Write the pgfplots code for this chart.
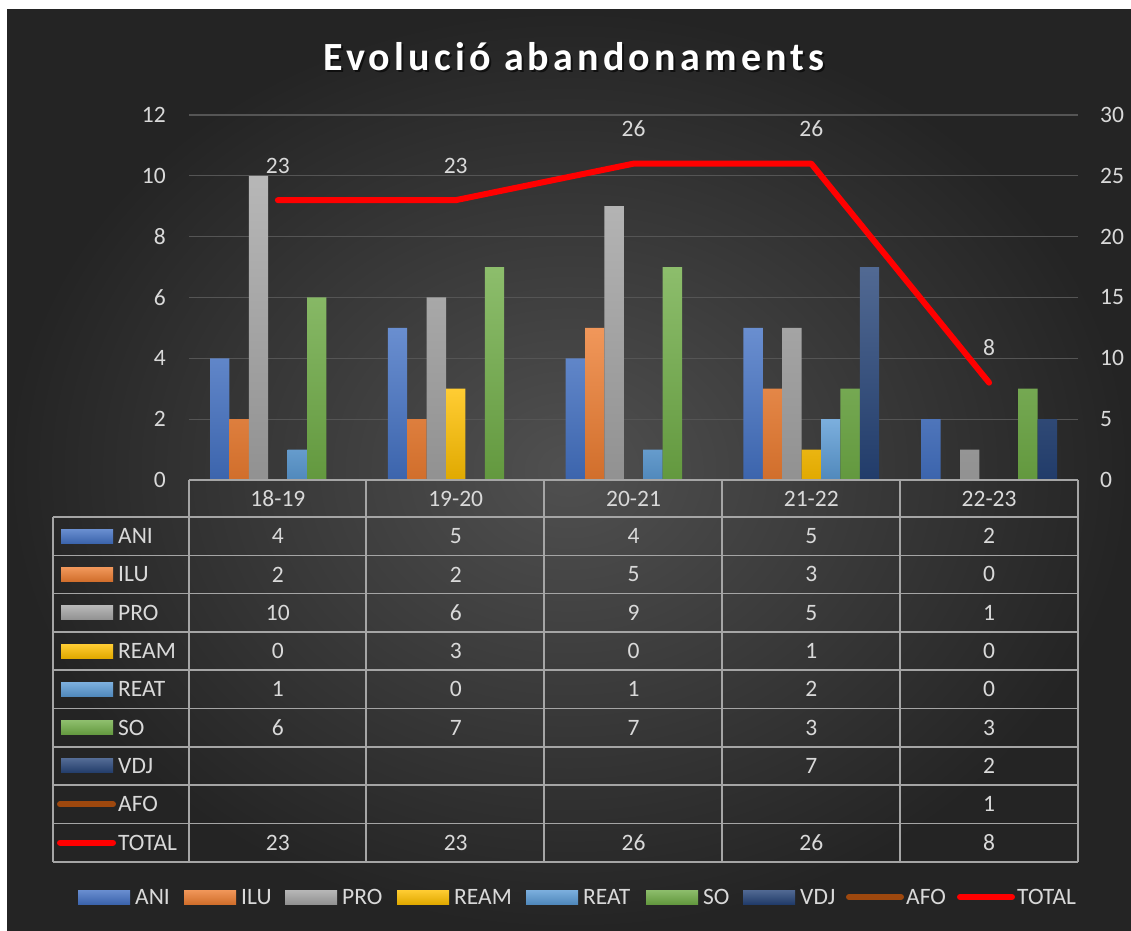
\documentclass[border=0pt]{standalone}
\usepackage{pgfplots}
\pgfplotsset{compat=1.18}
\usepackage{fontspec}
\setmainfont{Carlito}

\definecolor{bgin}{RGB}{80,80,80}
\definecolor{bgout}{RGB}{36,36,36}
\definecolor{txt}{RGB}{217,217,217}
\definecolor{gridc}{RGB}{85,85,85}
\definecolor{tabc}{RGB}{165,165,165}
\definecolor{cANI}{RGB}{68,114,196}
\definecolor{cILU}{RGB}{237,125,49}
\definecolor{cPRO}{RGB}{165,165,165}
\definecolor{cREAM}{RGB}{255,192,0}
\definecolor{cREAT}{RGB}{91,155,213}
\definecolor{cSO}{RGB}{112,173,71}
\definecolor{cVDJ}{RGB}{38,68,120}
\definecolor{cAFO}{RGB}{158,72,14}
\definecolor{cTOT}{RGB}{255,0,0}

\tikzset{
  barc/.style={draw=none, top color=#1!80!white, bottom color=#1!88!black},
}
\newcommand{\lbl}{\fontsize{23.5}{27}\selectfont}
\newcommand{\ttl}{\fontsize{40}{44}\selectfont\bfseries\addfontfeature{LetterSpace=10.5}}

\begin{document}
\begin{tikzpicture}[x=1pt,y=1pt]
\fill[white] (0,0) rectangle (1131,930);
\shade[inner color=bgin, outer color=bgout] (7,0) rectangle (1131,920);

% title
\node[text=black, opacity=0.6] at (576,871) {\ttl Evolució abandonaments};
\node[text=white] at (574,873) {\ttl Evolució abandonaments};

% bars, left axis
\begin{axis}[
  at={(189pt,450pt)}, anchor=south west,
  scale only axis, width=889pt, height=365pt,
  xmin=-0.5, xmax=4.5, ymin=0, ymax=12,
  xtick=\empty, ytick={0,2,...,12},
  ymajorgrids, grid style={gridc, line width=1.3pt},
  axis line style={draw=none}, tick style={draw=none},
  /pgf/number format/assume math mode=true,
  yticklabel style={font=\lbl, text=txt, inner sep=0pt, xshift=-23pt},
  ybar=0pt, bar width=19.4pt,
  clip=false,
]
\addplot[barc=cANI] coordinates {(0,4) (1,5) (2,4) (3,5) (4,2)};
\addplot[barc=cILU] coordinates {(0,2) (1,2) (2,5) (3,3) (4,0)};
\addplot[barc=cPRO] coordinates {(0,10) (1,6) (2,9) (3,5) (4,1)};
\addplot[barc=cREAM] coordinates {(0,0) (1,3) (2,0) (3,1) (4,0)};
\addplot[barc=cREAT] coordinates {(0,1) (1,0) (2,1) (3,2) (4,0)};
\addplot[barc=cSO] coordinates {(0,6) (1,7) (2,7) (3,3) (4,3)};
\addplot[barc=cVDJ] coordinates {(3,7) (4,2)};
\end{axis}

% total line, right axis
\begin{axis}[
  at={(189pt,450pt)}, anchor=south west,
  scale only axis, width=889pt, height=365pt,
  xmin=-0.5, xmax=4.5, ymin=0, ymax=30,
  axis y line*=right, hide x axis,
  ytick={0,5,...,30},
  axis line style={draw=none}, tick style={draw=none},
  /pgf/number format/assume math mode=true,
  yticklabel style={font=\lbl, text=txt, inner sep=0pt, xshift=22pt},
  clip=false,
]
\addplot[cAFO, line width=6pt, line cap=butt] coordinates {(4,1)};
\addplot[cTOT, line width=6pt, line cap=round, line join=round,
  nodes near coords,
  nodes near coords style={font=\lbl, text=txt, anchor=south, inner sep=0pt, yshift=24pt}]
  coordinates {(0,23) (1,23) (2,26) (3,26) (4,8)};
\end{axis}

% data table
\begin{scope}[tabc, line width=1.6pt]
\draw (189,450) -- (1078,450);
\foreach \k in {0,...,9} \draw (53,{413-\k*38.3}) -- (1078,{413-\k*38.3});
\foreach \xx in {189,366,544,722,900,1078} \draw (\xx,450) -- (\xx,68.3);
\draw (53,413) -- (53,68.3);
\end{scope}

\foreach \c [count=\i from 0] in {18-19,19-20,20-21,21-22,22-23}
  \node[text=txt, font=\lbl] at ({277.9+177.8*\i},431.5) {\c};

\newcommand{\rowvals}[2]{%
  \foreach \v [count=\i from 0] in {#2}
    \node[text=txt, font=\lbl] at ({277.9+177.8*\i},{393.85-38.3*#1}) {\v};}
\rowvals{0}{4,5,4,5,2}
\rowvals{1}{2,2,5,3,0}
\rowvals{2}{10,6,9,5,1}
\rowvals{3}{0,3,0,1,0}
\rowvals{4}{1,0,1,2,0}
\rowvals{5}{6,7,7,3,3}
\node[text=txt, font=\lbl] at ({277.9+177.8*3},{393.85-38.3*6}) {7};
\node[text=txt, font=\lbl] at ({277.9+177.8*4},{393.85-38.3*6}) {2};
\node[text=txt, font=\lbl] at ({277.9+177.8*4},{393.85-38.3*7}) {1};
\rowvals{8}{23,23,26,26,8}

% row headers
\foreach \n/\c [count=\r from 0] in {ANI/cANI,ILU/cILU,PRO/cPRO,REAM/cREAM,REAT/cREAT,SO/cSO,VDJ/cVDJ} {
  \shade[barc=\c] (61,{393.85-38.3*\r-7}) rectangle (113,{393.85-38.3*\r+7});
  \node[text=txt, font=\lbl, anchor=west, inner sep=0pt] at (118,{393.85-38.3*\r}) {\n};
}
\foreach \n/\c [count=\r from 7] in {AFO/cAFO,TOTAL/cTOT} {
  \draw[\c, line width=6pt, line cap=round] (60,{393.85-38.3*\r}) -- (113,{393.85-38.3*\r});
  \node[text=txt, font=\lbl, anchor=west, inner sep=0pt] at (118,{393.85-38.3*\r}) {\n};
}

% bottom legend
\foreach \n/\c/\xx in {ANI/cANI/78,ILU/cILU/184,PRO/cPRO/285,REAM/cREAM/397,REAT/cREAT/526,SO/cSO/646,VDJ/cVDJ/743} {
  \shade[barc=\c] (\xx,26) rectangle ({\xx+52},40);
  \node[text=txt, font=\lbl, anchor=west, inner sep=0pt] at ({\xx+57},33) {\n};
}
\foreach \n/\c/\xx in {AFO/cAFO/846,TOTAL/cTOT/957} {
  \draw[\c, line width=6pt, line cap=round] ({\xx+3},33) -- ({\xx+55},33);
  \node[text=txt, font=\lbl, anchor=west, inner sep=0pt] at ({\xx+60},33) {\n};
}
\end{tikzpicture}
\end{document}
